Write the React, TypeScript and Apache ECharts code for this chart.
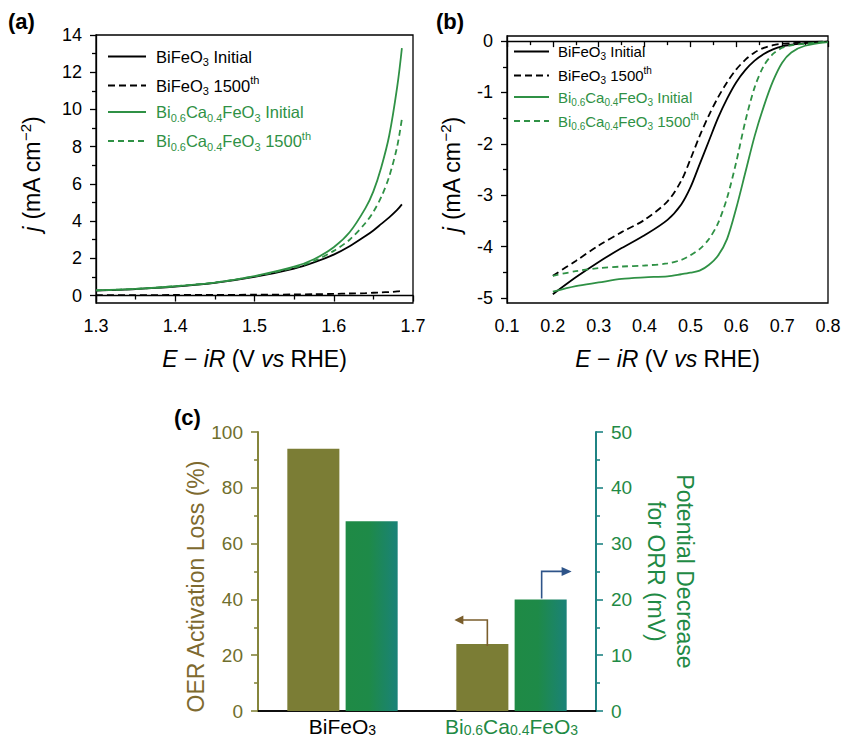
import React, { useEffect, useRef } from 'react';
import * as echarts from 'echarts';

const FONT = '"Liberation Sans", Arial, Helvetica, sans-serif';

// ---------- Panel (a): OER polarisation ----------
const oerPotential = [1.30, 1.35, 1.40, 1.45, 1.50, 1.55, 1.575, 1.60, 1.62, 1.64, 1.65, 1.66, 1.67, 1.68, 1.686];
const oerBfoInitial = [0.27, 0.35, 0.48, 0.68, 1.0, 1.45, 1.78, 2.2, 2.65, 3.2, 3.5, 3.85, 4.2, 4.6, 4.9];
const oerBfo1500 = [0.02, 0.02, 0.03, 0.035, 0.045, 0.06, 0.075, 0.09, 0.11, 0.13, 0.15, 0.17, 0.19, 0.22, 0.25];
const oerBcfoInitial = [0.28, 0.36, 0.50, 0.70, 1.05, 1.55, 1.95, 2.6, 3.4, 4.7, 5.6, 6.9, 8.6, 11.2, 13.3];
const oerBcfo1500 = [0.28, 0.36, 0.50, 0.70, 1.03, 1.50, 1.85, 2.4, 3.0, 3.9, 4.5, 5.3, 6.4, 8.0, 9.5];
const oerYTicks = [0, 2, 4, 6, 8, 10, 12, 14];
const oerYMinorTicks = [1, 3, 5, 7, 9, 11, 13];

// ---------- Panel (b): ORR polarisation ----------
const orrPotential = [0.20, 0.25, 0.30, 0.35, 0.40, 0.45, 0.48, 0.50, 0.52, 0.54, 0.56, 0.58, 0.60, 0.62, 0.64, 0.66, 0.68, 0.70, 0.72, 0.75, 0.80];
const orrBfoInitial = [-4.93, -4.60, -4.30, -4.03, -3.78, -3.48, -3.18, -2.85, -2.40, -1.95, -1.50, -1.12, -0.80, -0.56, -0.38, -0.25, -0.16, -0.10, -0.07, -0.04, -0.01];
const orrBfo1500 = [-4.57, -4.28, -3.98, -3.72, -3.48, -3.12, -2.72, -2.30, -1.85, -1.45, -1.10, -0.80, -0.55, -0.36, -0.22, -0.13, -0.08, -0.05, -0.04, -0.02, -0.01];
const orrBcfoInitial = [-4.88, -4.77, -4.70, -4.63, -4.60, -4.58, -4.54, -4.51, -4.47, -4.36, -4.18, -3.85, -3.25, -2.55, -1.85, -1.27, -0.78, -0.42, -0.22, -0.09, -0.02];
const orrBcfo1500 = [-4.57, -4.48, -4.42, -4.39, -4.37, -4.33, -4.26, -4.17, -4.05, -3.86, -3.55, -3.05, -2.35, -1.55, -0.90, -0.48, -0.25, -0.13, -0.08, -0.05, -0.01];
const orrYTicks = [-5, -4, -3, -2, -1, 0];
const orrYMinorTicks = [-4.5, -3.5, -2.5, -1.5, -0.5];

// ---------- Panel (c): bars ----------
const catalysts = ['BiFeO3', 'Bi0.6Ca0.4FeO3'];
const oerActivationLoss = [94, 24];
const orrPotentialDecrease = [34, 20];

const seriesNames = ['BiFeO3 Initial', 'BiFeO3 1500th', 'Bi0.6Ca0.4FeO3 Initial', 'Bi0.6Ca0.4FeO3 1500th'];

const BLACK = '#000000';
const GREEN = '#2f9145';
const OLIVE = '#7b7d35';
const BAR_W = 0.308;
const BAR_GAP = 0.12;

const legendColors: Record<string, string> = { k: BLACK, g: GREEN };

function legendFormatter(name: string) {
  switch (name) {
    case 'BiFeO3 Initial': return '{k|BiFeO}{ks|3}{k| Initial}';
    case 'BiFeO3 1500th': return '{k|BiFeO}{ks|3}{k| 1500}{kp|th}';
    case 'Bi0.6Ca0.4FeO3 Initial': return '{g|Bi}{gs|0.6}{g|Ca}{gs|0.4}{g|FeO}{gs|3}{g| Initial}';
    default: return '{g|Bi}{gs|0.6}{g|Ca}{gs|0.4}{g|FeO}{gs|3}{g| 1500}{gp|th}';
  }
}

function makeRich(fs: number, lh: number, subFs: number) {
  const out: any = {};
  Object.keys(legendColors).forEach((k) => {
    const c = legendColors[k];
    out[k] = { color: c, fontFamily: FONT, fontSize: fs, lineHeight: lh };
    out[k + 's'] = { color: c, fontFamily: FONT, fontSize: subFs, lineHeight: 10, verticalAlign: 'bottom' };
    out[k + 'p'] = { color: c, fontFamily: FONT, fontSize: subFs, lineHeight: 14, verticalAlign: 'top' };
  });
  return out;
}

function pairs(xs: number[], ys: number[]) {
  return xs.map((x, i) => [x, ys[i]]);
}

const titleRich = (fs: number) => ({
  n: { fontFamily: FONT, fontSize: fs, color: BLACK, lineHeight: 28 },
  i: { fontFamily: FONT, fontSize: fs, color: BLACK, fontStyle: 'italic', lineHeight: 28 },
  sup: { fontFamily: FONT, fontSize: 15, color: BLACK, verticalAlign: 'top', lineHeight: 16 },
});

const X_TITLE = '{i|E}{n| − }{i|iR}{n| (V }{i|vs}{n| RHE)}';
const Y_TITLE = '{i|j}{n| (mA cm}{sup|−2}{n|)}';

export default function App() {
  const ref = useRef<HTMLDivElement>(null);

  useEffect(() => {
    document.body.style.margin = '0';
    const chart = echarts.init(ref.current!, undefined, { renderer: 'svg' });

    const axisLineK = { show: true, lineStyle: { color: BLACK, width: 1.3 } };
    const tickK = { show: true, length: 6, lineStyle: { color: BLACK, width: 1.3 } };
    const minorK = { show: true, splitNumber: 2, length: 4, lineStyle: { color: BLACK, width: 1.3 } };
    const labelK = { color: BLACK, fontSize: 18, fontFamily: FONT };

    const lineSeries = (name: string, xi: number, yi: number, data: number[][], color: string, dashed: number[] | null) => ({
      type: 'line',
      name,
      xAxisIndex: xi,
      yAxisIndex: yi,
      data,
      smooth: 0.3,
      symbol: 'none',
      showSymbol: false,
      lineStyle: { color, width: 1.8, type: dashed ? dashed : 'solid' },
      itemStyle: { color },
      z: 3,
    });

    const greenGrad = new echarts.graphic.LinearGradient(0, 0, 1, 0, [
      { offset: 0, color: '#1f8a45' },
      { offset: 0.45, color: '#1e8a48' },
      { offset: 1, color: '#1a8278' },
    ]);

    const arrowItem = (kind: 'left' | 'right') => (params: any, api: any) => {
      const pt = api.coord([api.value(0), api.value(1)]);
      const band = api.size([1, 0])[0];
      const bw = band * BAR_W;
      const off = (bw * (1 + BAR_GAP)) / 2;
      if (kind === 'left') {
        const cx = pt[0] - off;
        const vx = cx + 5;
        const top = pt[1] - 24;
        return {
          type: 'group',
          children: [
            { type: 'polyline', shape: { points: [[vx, pt[1] + 2], [vx, top], [cx - 20, top]] }, style: { stroke: '#7a5e2c', lineWidth: 1.6, fill: null } },
            { type: 'polygon', shape: { points: [[cx - 28, top], [cx - 19, top - 4.5], [cx - 19, top + 4.5]] }, style: { fill: '#7a5e2c' } },
          ],
        };
      }
      const cx = pt[0] + off;
      const vx = cx + 1;
      const top = pt[1] - 28;
      return {
        type: 'group',
        children: [
          { type: 'polyline', shape: { points: [[vx, pt[1] - 1], [vx, top], [cx + 22, top]] }, style: { stroke: '#2e5489', lineWidth: 1.6, fill: null } },
          { type: 'polygon', shape: { points: [[cx + 31, top], [cx + 21, top - 4.5], [cx + 21, top + 4.5]] }, style: { fill: '#2e5489' } },
        ],
      };
    };

    const legendBase = {
      orient: 'vertical', itemHeight: 14, data: seriesNames, formatter: legendFormatter,
      selectedMode: false, itemStyle: { opacity: 0, borderWidth: 0 },
    };

    const option: any = {
      animation: false,
      textStyle: { fontFamily: FONT },
      grid: [
        { left: 96, top: 35, width: 317, height: 268, show: true, borderColor: BLACK, borderWidth: 1.3, outerBoundsMode: 'none' },
        { left: 507, top: 36, width: 321, height: 267, show: true, borderColor: BLACK, borderWidth: 1.3, outerBoundsMode: 'none' },
        { left: 258, top: 432, width: 338, height: 279, outerBoundsMode: 'none' },
      ],
      xAxis: [
        {
          type: 'value', gridIndex: 0, min: 1.3, max: 1.7, interval: 0.1,
          axisLine: axisLineK, axisTick: tickK, minorTick: minorK, splitLine: { show: false },
          axisLabel: { ...labelK, margin: 14 },
          name: X_TITLE, nameLocation: 'middle', nameGap: 42,
          nameTextStyle: { rich: titleRich(23) },
        },
        {
          type: 'value', gridIndex: 1, min: 0.1, max: 0.8, interval: 0.1,
          axisLine: axisLineK, axisTick: tickK, minorTick: minorK, splitLine: { show: false },
          axisLabel: { ...labelK, margin: 14 },
          name: X_TITLE, nameLocation: 'middle', nameGap: 42,
          nameTextStyle: { rich: titleRich(23) },
        },
        {
          type: 'category', gridIndex: 2, data: catalysts, position: 'bottom',
          axisLine: { show: true, lineStyle: { color: BLACK, width: 1.5 } },
          axisTick: { show: false },
          axisLabel: {
            interval: 0,
            margin: 5,
            formatter: (v: string) => (v === 'BiFeO3' ? '{b|BiFeO}{bs|3}' : '{g|Bi}{gs|0.6}{g|Ca}{gs|0.4}{g|FeO}{gs|3}'),
            rich: {
              b: { fontFamily: FONT, fontSize: 21, color: BLACK, lineHeight: 21 },
              bs: { fontFamily: FONT, fontSize: 14, color: BLACK, lineHeight: 8, verticalAlign: 'bottom' },
              g: { fontFamily: FONT, fontSize: 21, color: '#1f8a45', lineHeight: 21 },
              gs: { fontFamily: FONT, fontSize: 14, color: '#1f8a45', lineHeight: 8, verticalAlign: 'bottom' },
            },
          },
        },
        {
          type: 'category', gridIndex: 2, data: catalysts, position: 'top',
          axisLine: { show: true, lineStyle: { color: BLACK, width: 1.5 } },
          axisTick: { show: false }, axisLabel: { show: false },
        },
      ],
      yAxis: [
        {
          type: 'value', gridIndex: 0, min: -0.4, max: 14, position: 'left',
          axisLine: axisLineK,
          axisTick: { ...tickK, customValues: oerYTicks },
          axisLabel: { ...labelK, margin: 14, customValues: oerYTicks },
          splitLine: { show: false },
          name: Y_TITLE, nameLocation: 'middle', nameGap: 50, nameRotate: 90,
          nameTextStyle: { rich: titleRich(23), padding: [0, 10, 0, 0] },
        },
        {
          type: 'value', gridIndex: 0, min: -0.4, max: 14, position: 'left', offset: 0,
          axisLine: { show: false },
          axisTick: { show: true, length: 4, customValues: oerYMinorTicks, lineStyle: { color: BLACK, width: 1.3 } },
          axisLabel: { show: false }, splitLine: { show: false },
        },
        {
          type: 'value', gridIndex: 1, min: -5.1, max: 0.1, position: 'left',
          axisLine: axisLineK,
          axisTick: { ...tickK, customValues: orrYTicks },
          axisLabel: { ...labelK, margin: 14, customValues: orrYTicks },
          splitLine: { show: false },
          name: Y_TITLE, nameLocation: 'middle', nameGap: 41, nameRotate: 90,
          nameTextStyle: { rich: titleRich(23), padding: [0, 10, 0, 0] },
        },
        {
          type: 'value', gridIndex: 1, min: -5.1, max: 0.1, position: 'left', offset: 0,
          axisLine: { show: false },
          axisTick: { show: true, length: 4, customValues: orrYMinorTicks, lineStyle: { color: BLACK, width: 1.3 } },
          axisLabel: { show: false }, splitLine: { show: false },
        },
        {
          type: 'value', gridIndex: 2, min: 0, max: 100, interval: 20, position: 'left',
          axisLine: { show: true, lineStyle: { color: '#85853c', width: 2 } },
          axisTick: { show: true, length: 7, lineStyle: { color: '#85853c', width: 1.6 } },
          minorTick: { show: true, splitNumber: 2, length: 4, lineStyle: { color: '#85853c', width: 1.6 } },
          axisLabel: { color: '#6f6f2d', fontSize: 19, fontFamily: FONT, margin: 15 },
          splitLine: { show: false },
          name: 'OER Activation Loss (%)', nameLocation: 'middle', nameGap: 50, nameRotate: 90,
          nameTextStyle: { color: '#7e6a2f', fontSize: 23, fontFamily: FONT, padding: [0, 30, 0, 0] },
        },
        {
          type: 'value', gridIndex: 2, min: 0, max: 50, interval: 10, position: 'right',
          axisLine: { show: true, lineStyle: { color: '#1f8383', width: 2 } },
          axisTick: { show: true, length: 7, lineStyle: { color: '#1f8383', width: 1.6 } },
          minorTick: { show: true, splitNumber: 2, length: 4, lineStyle: { color: '#1f8383', width: 1.6 } },
          axisLabel: { color: '#1f8a45', fontSize: 19, fontFamily: FONT, margin: 15 },
          splitLine: { show: false },
          name: 'Potential Decrease\nfor ORR (mV)', nameLocation: 'middle', nameGap: 45, nameRotate: -90,
          nameTextStyle: { color: '#1f8a45', fontSize: 23, fontFamily: FONT, lineHeight: 29 },
        },
      ],
      legend: [
        {
          ...legendBase, left: 102, top: 43, itemWidth: 38, itemGap: 7,
          textStyle: { padding: [0, 0, 0, 5], rich: makeRich(16.5, 22, 11) },
        },
        {
          ...legendBase, left: 508, top: 39, itemWidth: 35, itemGap: 4,
          textStyle: { padding: [0, 0, 0, 4], rich: makeRich(15, 20, 10) },
        },
      ],
      series: [
        lineSeries(seriesNames[0], 0, 0, pairs(oerPotential, oerBfoInitial), BLACK, null),
        lineSeries(seriesNames[1], 0, 0, pairs(oerPotential, oerBfo1500), BLACK, [7, 4]),
        lineSeries(seriesNames[2], 0, 0, pairs(oerPotential, oerBcfoInitial), GREEN, null),
        lineSeries(seriesNames[3], 0, 0, pairs(oerPotential, oerBcfo1500), GREEN, [6, 4]),
        lineSeries(seriesNames[0], 1, 2, pairs(orrPotential, orrBfoInitial), BLACK, null),
        lineSeries(seriesNames[1], 1, 2, pairs(orrPotential, orrBfo1500), BLACK, [7, 4]),
        lineSeries(seriesNames[2], 1, 2, pairs(orrPotential, orrBcfoInitial), GREEN, null),
        lineSeries(seriesNames[3], 1, 2, pairs(orrPotential, orrBcfo1500), GREEN, [6, 4]),
        {
          type: 'bar', name: 'OER loss', xAxisIndex: 2, yAxisIndex: 4, data: oerActivationLoss,
          barWidth: BAR_W * 100 + '%', barGap: BAR_GAP * 100 + '%',
          itemStyle: { color: OLIVE },
        },
        {
          type: 'bar', name: 'ORR decrease', xAxisIndex: 2, yAxisIndex: 5, data: orrPotentialDecrease,
          barWidth: BAR_W * 100 + '%', barGap: BAR_GAP * 100 + '%',
          itemStyle: { color: greenGrad },
        },
        {
          type: 'custom', xAxisIndex: 2, yAxisIndex: 4, data: [[1, oerActivationLoss[1]]],
          renderItem: arrowItem('left'), z: 5,
        },
        {
          type: 'custom', xAxisIndex: 2, yAxisIndex: 5, data: [[1, orrPotentialDecrease[1]]],
          renderItem: arrowItem('right'), z: 5,
        },
      ],
      graphic: [
        { type: 'text', left: 8, top: 10, style: { text: '(a)', fontSize: 22, fontWeight: 'bold', fontFamily: FONT, fill: BLACK } },
        { type: 'text', left: 436, top: 10, style: { text: '(b)', fontSize: 22, fontWeight: 'bold', fontFamily: FONT, fill: BLACK } },
        { type: 'text', left: 174, top: 406, style: { text: '(c)', fontSize: 22, fontWeight: 'bold', fontFamily: FONT, fill: BLACK } },
      ],
    };

    chart.setOption(option);
    return () => chart.dispose();
  }, []);

  return <div ref={ref} style={{ width: 843, height: 740 }} />;
}
